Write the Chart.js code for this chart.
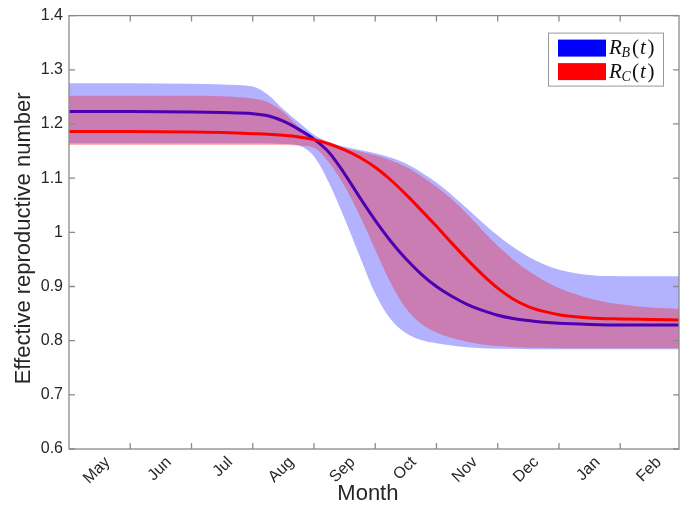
<!DOCTYPE html>
<html>
<head>
<meta charset="utf-8">
<script src="https://cdn.jsdelivr.net/npm/chart.js@4"></script>
<style>
  html, body { margin: 0; padding: 0; background: #fff; }
  #wrap { width: 689px; height: 507px; }
</style>
</head>
<body>
<div id="wrap"><canvas id="grafico" width="689" height="507"></canvas></div>
<script>
// mesi sull'asse x (0 = inizio di maggio)
var mesi = ['May', 'Jun', 'Jul', 'Aug', 'Sep', 'Oct', 'Nov', 'Dec', 'Jan', 'Feb'];
var tempo = [0, 1, 2, 2.5, 3, 3.25, 3.5, 3.75, 4, 4.25, 4.5, 4.75, 5, 5.25, 5.5, 5.75,
             6, 6.25, 6.5, 6.75, 7, 7.25, 7.5, 7.75, 8, 8.5, 9, 9.5, 9.96];
var yTicks = [0.6, 0.7, 0.8, 0.9, 1, 1.1, 1.2, 1.3, 1.4];

// R_B(t)
var rbMedia = [1.223, 1.223, 1.222, 1.221, 1.219, 1.215, 1.205, 1.190, 1.172, 1.147, 1.108, 1.064, 1.022, 0.984, 0.951, 0.923,
               0.900, 0.882, 0.867, 0.856, 0.847, 0.841, 0.837, 0.834, 0.832, 0.830, 0.829, 0.829, 0.829];
var rbSopra = [1.275, 1.275, 1.274, 1.273, 1.269, 1.254, 1.227, 1.203, 1.180, 1.166, 1.158, 1.152, 1.146, 1.138, 1.127, 1.111,
               1.092, 1.069, 1.044, 1.018, 0.994, 0.973, 0.955, 0.941, 0.931, 0.921, 0.919, 0.919, 0.919];
var rbSotto = [1.164, 1.164, 1.164, 1.164, 1.164, 1.164, 1.163, 1.160, 1.140, 1.090, 1.025, 0.955, 0.887, 0.840, 0.814, 0.801,
               0.795, 0.791, 0.788, 0.786, 0.785, 0.785, 0.784, 0.784, 0.784, 0.784, 0.784, 0.784, 0.784];

// R_C(t)
var rcMedia = [1.186, 1.186, 1.185, 1.184, 1.182, 1.181, 1.179, 1.176, 1.171, 1.163, 1.152, 1.138, 1.120, 1.097, 1.070, 1.041,
               1.011, 0.980, 0.950, 0.922, 0.897, 0.877, 0.863, 0.854, 0.848, 0.842, 0.840, 0.839, 0.838];
var rcSopra = [1.252, 1.252, 1.252, 1.251, 1.247, 1.240, 1.222, 1.195, 1.174, 1.163, 1.155, 1.149, 1.142, 1.133, 1.121, 1.104,
               1.084, 1.061, 1.034, 1.004, 0.975, 0.950, 0.929, 0.911, 0.897, 0.878, 0.867, 0.861, 0.859];
var rcSotto = [1.161, 1.161, 1.161, 1.161, 1.161, 1.161, 1.161, 1.160, 1.156, 1.128, 1.085, 1.030, 0.968, 0.907, 0.860, 0.831,
               0.815, 0.805, 0.798, 0.793, 0.790, 0.788, 0.787, 0.787, 0.786, 0.786, 0.786, 0.786, 0.786];

var coloreAssi = '#8a8a8a';
var coloreTesto = '#262626';

function punti(valori) {
    return tempo.map(function (t, i) { return { x: t, y: valori[i] }; });
}

function serie(valori, colore, spessore, ordine, riempi) {
    return {
        data: punti(valori),
        borderColor: colore,
        borderWidth: spessore,
        backgroundColor: riempi || 'transparent',
        fill: riempi ? '-1' : false,
        pointRadius: 0,
        cubicInterpolationMode: 'monotone',
        order: ordine
    };
}

// cornice e tacche verso l'interno, come in matlab
var cornice = {
    id: 'cornice',
    afterDatasetsDraw: function (chart) {
        var ctx = chart.ctx;
        var a = chart.chartArea;
        var sx = chart.scales.x, sy = chart.scales.y;
        ctx.save();
        ctx.strokeStyle = coloreAssi;
        ctx.lineWidth = 1.3;
        ctx.strokeRect(a.left, a.top, a.right - a.left, a.bottom - a.top);
        ctx.beginPath();
        for (var m = 1; m < mesi.length; m++) {
            var px = sx.getPixelForValue(m);
            ctx.moveTo(px, a.bottom); ctx.lineTo(px, a.bottom - 6);
            ctx.moveTo(px, a.top); ctx.lineTo(px, a.top + 6);
        }
        yTicks.forEach(function (v) {
            var py = sy.getPixelForValue(v);
            ctx.moveTo(a.left, py); ctx.lineTo(a.left + 6, py);
            ctx.moveTo(a.right, py); ctx.lineTo(a.right - 6, py);
        });
        ctx.stroke();
        ctx.restore();
    }
};

// legenda con i pedici
var legenda = {
    id: 'legenda',
    afterDraw: function (chart) {
        var ctx = chart.ctx;
        var a = chart.chartArea;
        var x0 = a.right - 131, y0 = a.top + 17;
        var voci = [['B', 'rgb(0,0,255)'], ['C', 'rgb(255,0,0)']];
        ctx.save();
        ctx.fillStyle = '#fff';
        ctx.fillRect(x0, y0, 115, 53);
        ctx.strokeStyle = '#9a9a9a';
        ctx.lineWidth = 1;
        ctx.strokeRect(x0 + 0.5, y0 + 0.5, 115, 53);
        voci.forEach(function (v, i) {
            var yc = y0 + 15 + i * 23.5;
            ctx.fillStyle = v[1];
            ctx.fillRect(x0 + 10, yc - 8, 48, 17);
            ctx.fillStyle = '#111';
            ctx.textBaseline = 'alphabetic';
            var x = x0 + 61;
            var base = yc + 6.5;
            ctx.font = 'italic 21px "Liberation Serif"';
            ctx.fillText('R', x, base);
            ctx.font = 'italic 14px "Liberation Serif"';
            ctx.fillText(v[0], x + 12.5, base + 3);
            ctx.font = '21px "Liberation Serif"';
            ctx.fillText('(', x + 23, base);
            ctx.font = 'italic 21px "Liberation Serif"';
            ctx.fillText('t', x + 31, base);
            ctx.font = '21px "Liberation Serif"';
            ctx.fillText(')', x + 38.5, base);
        });
        ctx.restore();
    }
};

var ctx = document.getElementById('grafico');
var chart = new Chart(ctx, {
    type: 'line',
    data: {
        datasets: [
            serie(rbSotto, 'transparent', 0, 6),
            serie(rbSopra, 'transparent', 0, 5, 'rgba(0,0,255,0.3)'),
            serie(rbMedia, 'rgb(0,0,255)', 3, 4),
            serie(rcSotto, 'transparent', 0, 3),
            serie(rcSopra, 'transparent', 0, 2, 'rgba(255,0,0,0.3)'),
            serie(rcMedia, 'rgb(255,0,0)', 3, 1)
        ]
    },
    options: {
        responsive: false,
        animation: false,
        layout: { padding: { top: 15, right: 10, left: 0, bottom: 0 } },
        plugins: {
            legend: { display: false },
            tooltip: { enabled: false }
        },
        scales: {
            x: {
                type: 'linear',
                min: 0,
                max: 9.96,
                afterBuildTicks: function (scale) {
                    scale.ticks = mesi.map(function (m, i) { return { value: i + 0.5 }; });
                },
                afterFit: function (scale) { scale.height = 58; },
                grid: { display: false, drawTicks: false },
                border: { display: false },
                ticks: {
                    autoSkip: false,
                    minRotation: 45,
                    maxRotation: 45,
                    labelOffset: 8,
                    padding: 4,
                    color: coloreTesto,
                    font: { family: '"Liberation Sans"', size: 16 },
                    callback: function (v) { return mesi[Math.floor(v)]; }
                },
                title: {
                    display: true,
                    text: 'Month  ',
                    color: coloreTesto,
                    padding: 0,
                    font: { family: '"Liberation Sans"', size: 22 }
                }
            },
            y: {
                min: 0.6,
                max: 1.4,
                afterBuildTicks: function (scale) {
                    scale.ticks = yTicks.map(function (v) { return { value: v }; });
                },
                afterFit: function (scale) { scale.width = 69; },
                grid: { display: false, drawTicks: false },
                border: { display: false },
                ticks: {
                    padding: 6,
                    color: coloreTesto,
                    font: { family: '"Liberation Sans"', size: 16 },
                    callback: function (v) { return String(+v.toFixed(1)); }
                },
                title: {
                    display: true,
                    text: 'Effective reproductive number  ',
                    color: coloreTesto,
                    padding: { top: 11, bottom: 0 },
                    font: { family: '"Liberation Sans"', size: 22 }
                }
            }
        }
    },
    plugins: [cornice, legenda]
});
</script>
</body>
</html>
